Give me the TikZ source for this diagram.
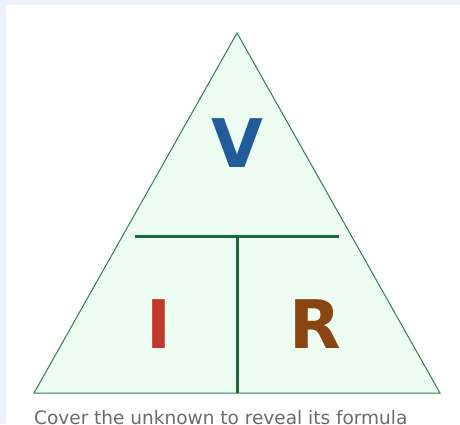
\documentclass[tikz,border=0pt]{standalone}
\usepackage{fontspec}
\setmainfont{DejaVu Sans}
\definecolor{pagebg}{HTML}{EBF2FA}
\definecolor{trifill}{HTML}{EEFDF2}
\definecolor{triline}{HTML}{2E7D4F}
\definecolor{tline}{HTML}{1B6B3A}
\definecolor{vcol}{HTML}{1F5C99}
\definecolor{icol}{HTML}{C0392B}
\definecolor{rcol}{HTML}{8B4513}
\definecolor{capcol}{HTML}{6B6B6B}
\tikzset{
  letter/.style={font=\fontsize{67}{67}\selectfont\bfseries, inner sep=0pt, anchor=base},
  divider/.style={draw=tline, line width=3pt},
}
\begin{document}
\begin{tikzpicture}[x=1pt,y=-1pt]
\useasboundingbox (0,0) rectangle (460,424);
\clip (0,0) rectangle (460,424);
\fill[pagebg] (0,0) rectangle (460,424);
\fill[white] (6,5) rectangle (460,430);
\coordinate (apex) at (237,33);
\coordinate (bl) at (34,393);
\coordinate (br) at (440,393);
\filldraw[fill=trifill, draw=triline, line width=1pt, line join=miter] (apex) -- (bl) -- (br) -- cycle;
\coordinate (hl) at (135,236);
\coordinate (hr) at (339,236);
\coordinate (vt) at (237,236);
\coordinate (vb) at (237,393);
\draw[divider] (hl) -- (hr);
\draw[divider] (vt) -- (vb);
\node[letter, text=vcol] (V) at (237,167) {V};
\node[letter, text=icol] (I) at (159,348) {I};
\node[letter, text=rcol] (R) at (315,348) {R};
\node[anchor=base west, inner sep=0pt, text=capcol, font=\fontsize{18.5}{18.5}\selectfont] (cap) at (34,424) {Cover the unknown to reveal its formula};
\end{tikzpicture}
\end{document}
